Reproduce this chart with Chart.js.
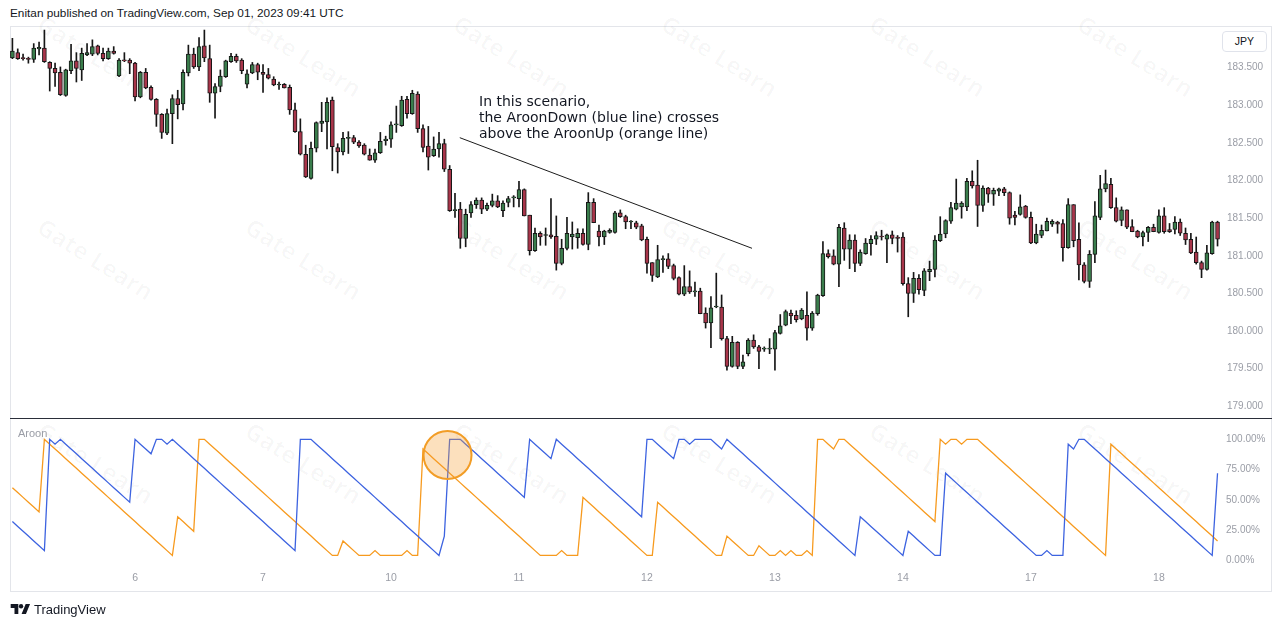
<!DOCTYPE html>
<html><head><meta charset="utf-8">
<script src="https://cdn.jsdelivr.net/npm/chart.js@4.4.0/dist/chart.umd.min.js"></script>
<style>
html,body{margin:0;padding:0;background:#fff;}
body{width:1281px;height:627px;position:relative;overflow:hidden;font-family:"Liberation Sans",Arial,sans-serif;}
#hdr{position:absolute;left:10px;top:6px;font-size:11.8px;color:#131722;white-space:nowrap;}
#frame{position:absolute;left:10px;top:26px;width:1262px;height:566px;border:1px solid #e3e5ea;box-sizing:border-box;}
#sep{position:absolute;left:10px;top:418px;width:1262px;height:1px;background:#2a2e39;}
#w1{position:absolute;left:10px;top:26px;width:1261px;height:392px;}
#w2{position:absolute;left:10px;top:419px;width:1261px;height:171px;}
#jpy{position:absolute;left:1222px;top:31px;width:45px;height:21px;border:1px solid #e0e3eb;border-radius:4px;box-sizing:border-box;font-size:10.5px;line-height:19px;text-align:center;color:#131722;background:#fff;}
#aroonLbl{position:absolute;left:18px;top:427px;font-size:11px;color:#9a9da6;}
#note{position:absolute;left:479px;top:93px;font-family:"DejaVu Sans",sans-serif;font-size:14px;line-height:16px;color:#131722;white-space:nowrap;}
#foot{position:absolute;left:10px;top:601px;height:16px;display:flex;align-items:center;font-size:13px;color:#131722;}
#foot svg{margin-right:3px;}
.wm{position:absolute;font-family:"Open Sans",sans-serif;font-weight:700;font-size:24px;color:rgba(0,0,0,0.028);transform:rotate(32deg);white-space:nowrap;transform-origin:center;}
</style></head>
<body>
<div id="hdr">Enitan published on TradingView.com, Sep 01, 2023 09:41 UTC</div>
<div id="frame"></div>
<div id="wms"></div>
<div id="w1"><canvas id="c1" width="1261" height="392"></canvas></div>
<div id="sep"></div>
<div id="w2"><canvas id="c2" width="1261" height="171"></canvas></div>
<div id="jpy">JPY</div>
<div id="aroonLbl">Aroon</div>
<div id="note">In this scenario,<br>the AroonDown (blue line) crosses<br>above the AroonUp (orange line)</div>
<div id="foot"><svg width="21" height="12" viewBox="0 0 36 22"><path d="M14 20H7V9H0V2h14v18zM28 20h-8l7.5-18h8L28 20z" fill="#131722"/><circle cx="19" cy="6" r="4" fill="#131722"/></svg>TradingView</div>
<script>
// ---------------- DATA ----------------
const open = [183.63,183.70,183.63,183.62,183.61,183.75,183.76,183.57,183.49,183.44,
183.13,183.46,183.59,183.47,183.67,183.68,183.79,183.69,183.62,183.72,
183.39,183.60,183.60,183.56,183.11,183.44,183.24,183.08,182.88,182.63,
182.89,183.09,183.02,183.43,183.68,183.51,183.79,183.62,183.16,183.25,
183.38,183.58,183.65,183.60,183.28,183.43,183.54,183.44,183.41,183.35,
183.27,183.28,183.24,182.94,182.65,182.35,182.03,182.43,182.76,182.78,
183.07,182.44,182.38,182.56,182.57,182.51,182.47,182.34,182.27,182.37,
182.53,182.55,182.74,182.73,183.08,182.89,183.15,182.69,182.46,182.33,
182.42,182.49,182.15,181.60,181.62,181.23,181.57,181.68,181.74,181.62,
181.67,181.73,181.60,181.71,181.77,181.76,181.88,181.54,181.07,181.30,
181.27,181.28,181.26,180.90,181.10,181.25,181.24,181.30,181.15,181.71,
181.33,181.25,181.31,181.31,181.57,181.52,181.45,181.44,181.40,181.22,
180.91,180.72,180.95,180.96,180.87,180.71,180.49,180.59,180.52,180.53,
180.24,180.11,180.32,180.32,179.90,179.53,179.85,179.53,179.70,179.88,
179.79,179.76,179.76,179.76,179.97,180.08,180.24,180.21,180.16,180.21,
180.04,180.23,180.47,181.03,181.00,180.89,181.37,181.09,181.21,180.90,
181.03,181.16,181.22,181.26,181.22,181.28,181.25,181.25,180.63,180.50,
180.70,180.54,180.79,180.82,181.20,181.29,181.46,181.62,181.65,181.65,
181.99,181.94,181.67,181.90,181.82,181.86,181.89,181.84,181.54,181.55,
181.66,181.51,181.17,181.27,181.33,181.42,181.45,181.43,181.11,181.68,
181.22,180.88,180.66,181.02,181.51,181.89,181.95,181.64,181.47,181.61,
181.39,181.33,181.25,181.31,181.38,181.31,181.53,181.35,181.35,181.45,
181.30,181.22,181.05,180.91,180.82,181.03,181.45];
const high = [183.89,183.75,183.68,183.64,183.82,183.84,184.00,183.58,183.56,183.51,
183.48,183.81,183.70,183.76,183.82,183.87,183.80,183.76,183.76,183.78,
183.62,183.70,183.62,183.57,183.45,183.49,183.26,183.09,182.89,182.95,
183.14,183.20,183.47,183.80,183.76,183.90,184.00,183.80,183.29,183.47,
183.60,183.69,183.68,183.62,183.47,183.57,183.56,183.54,183.49,183.38,
183.31,183.29,183.27,183.03,182.82,182.47,182.51,182.78,183.04,183.10,
183.11,182.49,182.64,182.65,182.60,182.53,182.49,182.42,182.42,182.64,
182.59,182.78,182.99,183.12,183.12,183.20,183.18,182.74,182.72,182.58,
182.64,182.55,182.20,181.83,181.71,181.62,181.72,181.77,181.77,181.70,
181.82,181.80,181.73,181.79,181.80,181.99,181.89,181.54,181.37,181.32,
181.37,181.76,181.53,181.22,181.51,181.45,181.36,181.36,181.84,181.76,
181.41,181.34,181.36,181.59,181.61,181.54,181.47,181.46,181.42,181.25,
180.91,181.14,181.00,181.03,180.89,180.72,180.87,180.80,180.65,180.57,
180.31,180.46,180.77,180.48,179.93,179.93,179.86,179.68,179.90,179.95,
179.81,179.79,179.90,180.01,180.22,180.28,180.28,180.27,180.30,180.52,
180.26,180.49,181.19,181.08,181.08,181.42,181.44,181.28,181.28,181.08,
181.23,181.27,181.32,181.34,181.29,181.33,181.27,181.31,180.71,180.78,
180.75,180.83,180.93,181.27,181.52,181.48,181.71,182.02,181.72,182.03,
182.13,182.27,181.93,181.91,181.90,181.90,181.91,181.85,181.59,181.81,
181.67,181.58,181.42,181.41,181.50,181.48,181.46,181.48,181.76,181.68,
181.44,180.91,181.07,181.72,182.07,182.14,182.03,181.77,181.65,181.61,
181.48,181.34,181.33,181.39,181.42,181.61,181.64,181.43,181.52,181.49,
181.37,181.30,181.25,180.93,181.14,181.46,181.46];
const low = [183.62,183.61,183.60,183.56,183.57,183.67,183.57,183.19,183.25,183.13,
183.12,183.42,183.31,183.33,183.66,183.66,183.67,183.59,183.61,183.68,
183.38,183.58,183.42,183.06,183.10,183.22,183.07,182.72,182.56,182.61,
182.49,182.82,182.94,183.39,183.49,183.46,183.58,183.04,182.83,183.18,
183.37,183.57,183.57,183.42,183.23,183.42,183.34,183.17,183.35,183.26,
183.21,183.23,182.88,182.64,182.34,182.04,182.02,182.38,182.65,182.42,
182.13,182.10,182.34,182.36,182.49,182.44,182.34,182.27,182.24,182.36,
182.47,182.44,182.64,182.72,182.83,182.88,182.64,182.38,182.14,182.32,
182.31,182.12,181.59,181.51,181.10,181.12,181.51,181.63,181.56,181.60,
181.65,181.64,181.52,181.65,181.65,181.65,181.53,181.01,181.06,181.14,
181.14,181.23,180.81,180.88,181.08,181.09,181.10,181.14,181.08,181.44,
181.13,181.15,181.30,181.30,181.51,181.36,181.36,181.36,181.20,180.77,
180.66,180.71,180.78,180.83,180.68,180.48,180.47,180.50,180.46,180.23,
180.04,179.78,180.31,179.88,179.48,179.52,179.50,179.50,179.67,179.77,
179.50,179.73,179.70,179.48,179.96,180.07,180.10,180.12,180.15,179.88,
180.01,180.21,180.46,180.97,180.88,180.59,180.94,180.83,180.79,180.87,
181.02,181.01,181.15,181.21,180.91,181.16,181.05,180.61,180.19,180.38,
180.49,180.47,180.67,180.72,181.19,181.24,181.43,181.61,181.50,181.60,
181.90,181.39,181.59,181.71,181.67,181.80,181.80,181.42,181.41,181.54,
181.50,181.16,181.16,181.24,181.33,181.39,181.30,180.93,181.10,181.12,
180.68,180.64,180.58,180.91,181.48,181.85,181.63,181.45,181.40,181.36,
181.32,181.24,181.13,181.19,181.32,181.30,181.30,181.31,181.29,181.27,
181.15,181.03,180.89,180.71,180.81,181.02,181.13];
const close = [183.72,183.62,183.62,183.61,183.76,183.77,183.58,183.49,183.43,183.14,
183.47,183.59,183.49,183.69,183.70,183.78,183.69,183.62,183.72,183.69,
183.60,183.59,183.56,183.11,183.44,183.23,183.08,182.88,182.64,182.89,
183.09,183.01,183.44,183.68,183.51,183.78,183.63,183.16,183.25,183.39,
183.59,183.65,183.59,183.46,183.42,183.54,183.44,183.41,183.36,183.27,
183.28,183.23,182.94,182.65,182.35,182.05,182.43,182.77,182.79,183.04,
182.45,182.38,182.56,182.57,182.51,182.46,182.35,182.27,182.37,182.52,
182.55,182.74,182.74,183.07,182.89,183.16,182.69,182.44,182.31,182.42,
182.49,182.15,181.60,181.61,181.23,181.55,181.68,181.74,181.62,181.67,
181.73,181.65,181.70,181.76,181.77,181.88,181.53,181.07,181.30,181.25,
181.27,181.25,180.90,181.10,181.30,181.29,181.30,181.15,181.71,181.44,
181.25,181.33,181.34,181.57,181.52,181.45,181.45,181.38,181.21,180.90,
180.74,180.95,180.95,180.86,180.70,180.49,180.59,180.52,180.52,180.23,
180.11,180.31,180.32,179.90,179.53,179.85,179.53,179.59,179.88,179.79,
179.73,179.76,179.76,179.98,180.07,180.26,180.20,180.15,180.28,180.04,
180.24,180.48,181.03,180.99,180.89,181.38,181.09,181.21,180.90,181.05,
181.17,181.22,181.27,181.25,181.28,181.23,181.23,180.63,180.50,180.70,
180.55,180.80,180.82,181.21,181.29,181.47,181.64,181.70,181.70,181.99,
181.93,181.67,181.90,181.82,181.87,181.89,181.84,181.50,181.51,181.65,
181.51,181.17,181.29,181.34,181.46,181.46,181.42,181.11,181.68,181.20,
180.88,180.66,181.02,181.53,181.89,181.96,181.64,181.46,181.61,181.38,
181.32,181.25,181.31,181.38,181.32,181.53,181.32,181.32,181.45,181.30,
181.21,181.04,180.91,180.82,181.04,181.45,181.22];
const aroonUp = [60,56,52,48,44,40,
100,96,92,88,84,80,76,72,68,64,60,56,52,48,44,40,36,32,28,24,20,16,12,8,4,
36,32,28,24,
100,100,96,92,88,84,80,76,72,68,64,60,56,52,48,44,40,36,32,28,24,20,16,12,8,4,
4,16,12,8,4,4,4,8,4,4,4,4,4,8,4,4,
92,88,84,80,76,72,68,64,60,56,52,48,44,40,36,32,28,24,20,16,12,8,4,
4,4,4,8,4,4,4,
52,48,44,40,36,32,28,24,20,16,12,8,4,
4,
48,44,40,36,32,28,24,20,16,12,8,4,
4,
20,16,12,8,4,
4,
12,8,4,
4,8,4,8,4,4,8,4,
100,100,96,92,100,100,
96,92,88,84,80,76,72,68,64,60,56,52,48,44,40,36,32,
100,96,100,100,96,100,100,100,
96,92,88,84,80,76,72,68,64,60,56,52,48,44,40,36,32,28,24,20,16,12,8,4,
96,92,88,84,80,76,72,68,64,60,56,52,48,44,40,36,32,28,24,20,16];
const aroonDown = [32,28,24,20,16,12,8,
100,96,100,
96,92,88,84,80,76,72,68,64,60,56,52,48,
100,96,92,88,100,100,96,100,
96,92,88,84,80,76,72,68,64,60,56,52,48,44,40,36,32,28,24,20,16,12,8,
100,100,100,
96,92,88,84,80,76,72,68,64,60,56,52,48,44,40,36,32,28,24,20,16,12,8,4,
20,
100,100,100,
96,92,88,84,80,76,72,68,64,60,56,52,
100,96,92,88,84,
100,96,92,88,84,80,76,72,68,64,60,56,52,48,44,40,36,
100,100,96,92,88,84,
100,100,96,100,100,100,100,96,92,100,
96,92,88,84,80,76,72,68,64,60,56,52,48,44,40,36,32,28,24,20,16,12,8,4,
36,32,28,24,20,16,12,8,4,
24,20,16,12,8,4,4,
72,68,64,60,56,52,48,44,40,36,32,28,24,20,16,12,8,4,
4,8,4,4,4,
96,92,100,100,
96,92,88,84,80,76,72,68,64,60,56,52,48,44,40,36,32,28,24,20,16,12,8,4,
72];
const dayTickIdx = [23,47,71,95,119,143,167,191,215];
const dayLabels = ['6','7','10','11','12','13','14','17','18'];
const priceTicks = [179.0,179.5,180.0,180.5,181.0,181.5,182.0,182.5,183.0,183.5];
const pctTicks = [0,25,50,75,100];
const trendLine = [{x:83.9,y:182.57},{x:138.7,y:181.10}];
const highlight = [{x:81.6,y:87}];

// ---------------- STYLE / LAYOUT ----------------
const X_MIN = -0.45, X_MAX = 226.65;
const UP = '#3a7d4c', DOWN = '#a8354a', OUTLINE = '#161616';
const axisFont = {family:'"Liberation Sans", Arial, sans-serif', size:10};
const axisColor = '#9a9da6';
function noPad(s) { s.paddingTop = 0; s.paddingBottom = 0; s.paddingLeft = 0; s.paddingRight = 0; }

// watermarks
const wms = document.getElementById('wms');
[55, 258, 462].forEach(cy => {
  for (let k = 0; k < 6; k++) {
    const s = document.createElement('div');
    s.className = 'wm';
    s.textContent = 'Gate Learn';
    s.style.left = (100 + 208 * k - 70) + 'px';
    s.style.top = (cy - 16) + 'px';
    wms.appendChild(s);
  }
});

const idx = open.map((_, i) => i);
const bodies = idx.map(i => ({x: i, y: [open[i], close[i]]}));
const wicks = idx.map(i => ({x: i, y: [low[i], high[i]]}));
const bodyColors = idx.map(i => close[i] >= open[i] ? UP : DOWN);

new Chart(document.getElementById('c1'), {
  type: 'bar',
  data: {datasets: [
    {type: 'line', data: trendLine, borderColor: '#1c1c1c', borderWidth: 1, pointRadius: 0, order: 0},
    {data: bodies, backgroundColor: bodyColors, borderColor: OUTLINE, borderWidth: 1, borderSkipped: false,
     barThickness: 4, grouped: false, minBarLength: 1, order: 1},
    {data: wicks, backgroundColor: OUTLINE, barThickness: 1, grouped: false, order: 2}
  ]},
  options: {
    responsive: false, animation: false, events: [],
    layout: {padding: 0, autoPadding: false},
    plugins: {legend: {display: false}, tooltip: {enabled: false}},
    scales: {
      x: {type: 'linear', min: X_MIN, max: X_MAX, display: false, offset: false, afterFit: noPad},
      y: {position: 'right', min: 178.845, max: 184.054,
          grid: {display: false, drawTicks: false}, border: {display: false},
          afterFit(s) { s.width = 50; noPad(s); },
          afterBuildTicks(s) { s.ticks = priceTicks.map(v => ({value: v})); },
          ticks: {padding: 6, color: axisColor, font: axisFont, callback: v => v.toFixed(3)}}
    }
  }
});

new Chart(document.getElementById('c2'), {
  type: 'line',
  data: {datasets: [
    {type: 'bubble', data: highlight, radius: 24, backgroundColor: 'rgba(246,160,50,0.32)', borderColor: '#f29d26', borderWidth: 2, order: 0},
    {data: idx.map(i => ({x: i, y: aroonUp[i]})), borderColor: '#f79a1e', borderWidth: 1.3, pointRadius: 0, order: 2},
    {data: idx.map(i => ({x: i, y: aroonDown[i]})), borderColor: '#3d63e0', borderWidth: 1.3, pointRadius: 0, order: 1}
  ]},
  options: {
    responsive: false, animation: false, events: [],
    layout: {padding: 0, autoPadding: false},
    plugins: {legend: {display: false}, tooltip: {enabled: false}},
    scales: {
      x: {type: 'linear', min: X_MIN, max: X_MAX, offset: false,
          grid: {display: false, drawTicks: false}, border: {display: false},
          afterFit(s) { s.height = 22; noPad(s); },
          afterBuildTicks(s) { s.ticks = dayTickIdx.map(v => ({value: v})); },
          ticks: {padding: 4, color: axisColor, font: {family: axisFont.family, size: 10.5}, maxRotation: 0, autoSkip: false,
                  callback: (v, i) => dayLabels[i]}},
      y: {position: 'right', min: -6.36, max: 116.78,
          grid: {display: false, drawTicks: false}, border: {display: false},
          afterFit(s) { s.width = 50; noPad(s); },
          afterBuildTicks(s) { s.ticks = pctTicks.map(v => ({value: v})); },
          ticks: {padding: 5, color: axisColor, font: axisFont, callback: v => v.toFixed(2) + '%'}}
    }
  }
});
</script>
</body></html>
